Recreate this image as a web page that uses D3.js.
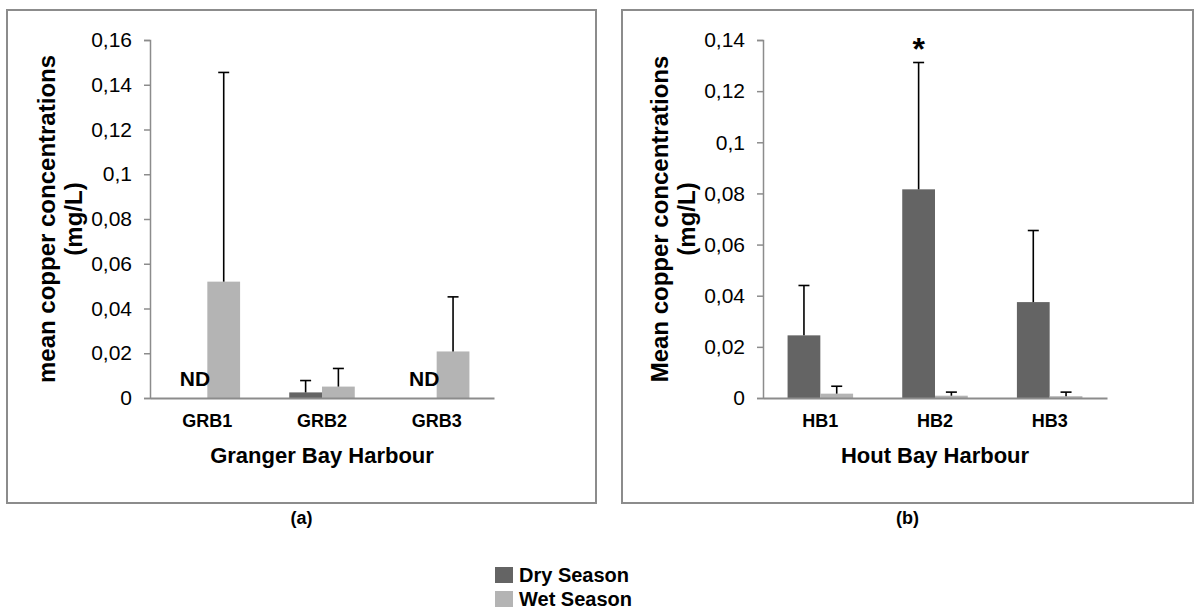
<!DOCTYPE html>
<html>
<head>
<meta charset="utf-8">
<script src="https://cdn.jsdelivr.net/npm/d3@7"></script>
<style>
  html, body { margin: 0; padding: 0; background: #fff; }
  svg { display: block; font-family: Arial, "Liberation Sans", sans-serif; }
</style>
</head>
<body>
<svg id="chart" width="1201" height="610"></svg>
<script>
// Copper concentrations (mg/L) per sampling site, dry vs wet season.
// null = not detected (ND).
const series = ["Dry Season", "Wet Season"];
const seriesColors = ["#646464", "#b4b4b4"];

// (a) Granger Bay Harbour
const grbSites = ["GRB1", "GRB2", "GRB3"];
const grbDry = [null, 0.0025, null];
const grbDryErr = [null, 0.0053, null];
const grbWet = [0.052, 0.0051, 0.0208];
const grbWetErr = [0.0935, 0.0081, 0.0244];
const grbTickValues = [0, 0.02, 0.04, 0.06, 0.08, 0.1, 0.12, 0.14, 0.16];
const grbTickLabels = ["0", "0,02", "0,04", "0,06", "0,08", "0,1", "0,12", "0,14", "0,16"];

// (b) Hout Bay Harbour
const hbSites = ["HB1", "HB2", "HB3"];
const hbDry = [0.0245, 0.0816, 0.0375];
const hbDryErr = [0.0195, 0.0496, 0.028];
const hbWet = [0.0017, 0.0009, 0.0007];
const hbWetErr = [0.0029, 0.0014, 0.0016];
const hbTickValues = [0, 0.02, 0.04, 0.06, 0.08, 0.1, 0.12, 0.14];
const hbTickLabels = ["0", "0,02", "0,04", "0,06", "0,08", "0,1", "0,12", "0,14"];
const hbSignificant = ["HB2"]; // marked with *

const svg = d3.select("#chart");

function drawPanel(opt) {
  const g = svg.append("g");

  // frame
  g.append("rect")
    .attr("x", opt.box[0]).attr("y", opt.box[1])
    .attr("width", opt.box[2]).attr("height", opt.box[3])
    .attr("fill", "none").attr("stroke", "#8c8c8c").attr("stroke-width", 2);

  const x0 = d3.scaleBand().domain(opt.sites).range([opt.left, opt.right]).padding(0);
  const x1 = d3.scaleBand().domain(series).range([0, x0.bandwidth()])
    .paddingInner(0).paddingOuter(0.75);
  const y = d3.scaleLinear().domain([0, opt.yMax]).range([opt.bottom, opt.top]);

  const rows = opt.sites.map((s, i) => ({
    site: s,
    vals: [
      { key: series[0], v: opt.dry[i], e: opt.dryErr[i], c: seriesColors[0] },
      { key: series[1], v: opt.wet[i], e: opt.wetErr[i], c: seriesColors[1] }
    ]
  }));

  // bars
  const grp = g.selectAll(".site").data(rows).join("g")
    .attr("transform", d => `translate(${x0(d.site)},0)`);
  grp.selectAll("rect").data(d => d.vals.filter(v => v.v !== null)).join("rect")
    .attr("x", d => x1(d.key))
    .attr("width", x1.bandwidth())
    .attr("y", d => y(d.v))
    .attr("height", d => y(0) - y(d.v))
    .attr("fill", d => d.c);

  // upper error bars
  const eb = grp.selectAll(".err").data(d => d.vals.filter(v => v.v !== null)).join("g")
    .attr("class", "err");
  eb.append("line")
    .attr("x1", d => x1(d.key) + x1.bandwidth() / 2)
    .attr("x2", d => x1(d.key) + x1.bandwidth() / 2)
    .attr("y1", d => y(d.v)).attr("y2", d => y(d.v + d.e))
    .attr("stroke", "#000").attr("stroke-width", 1.6);
  eb.append("line")
    .attr("x1", d => x1(d.key) + x1.bandwidth() / 2 - 5.5)
    .attr("x2", d => x1(d.key) + x1.bandwidth() / 2 + 5.5)
    .attr("y1", d => y(d.v + d.e)).attr("y2", d => y(d.v + d.e))
    .attr("stroke", "#000").attr("stroke-width", 1.6);

  // ND labels for non-detected values
  grp.selectAll(".nd").data(d => d.vals.filter(v => v.v === null)).join("text")
    .attr("class", "nd")
    .attr("x", d => x1(d.key) + x1.bandwidth() / 2 + 4)
    .attr("y", y(0) - 12)
    .attr("text-anchor", "middle")
    .attr("font-weight", "bold").attr("font-size", 21)
    .text("ND");

  // significance markers
  grp.filter(d => (opt.sig || []).includes(d.site))
    .append("text")
    .attr("x", d => x1(series[0]) + x1.bandwidth() / 2)
    .attr("y", d => y(d.vals[0].v + d.vals[0].e) - 3)
    .attr("text-anchor", "middle")
    .attr("font-weight", "bold").attr("font-size", 32)
    .text("*");

  // y axis
  const yAxis = d3.axisLeft(y)
    .tickValues(opt.tickValues)
    .tickFormat((d, i) => opt.tickLabels[i])
    .tickSize(6).tickPadding(12);
  const ya = g.append("g").attr("transform", `translate(${opt.left},0)`).call(yAxis);
  ya.select(".domain").attr("stroke", "#8c8c8c").attr("stroke-width", 1.5);
  ya.selectAll(".tick line").attr("stroke", "#8c8c8c").attr("stroke-width", 1.5);
  ya.selectAll(".tick text").attr("font-size", 21).attr("fill", "#000")
    .attr("font-family", "Arial, 'Liberation Sans', sans-serif");

  // x axis
  const xAxis = d3.axisBottom(x0).tickSize(0).tickPadding(16);
  const xa = g.append("g").attr("transform", `translate(0,${opt.bottom})`).call(xAxis);
  xa.select(".domain").attr("stroke", "#8c8c8c").attr("stroke-width", 2);
  xa.selectAll(".tick text").attr("font-size", 18).attr("font-weight", "bold").attr("fill", "#000")
    .attr("font-family", "Arial, 'Liberation Sans', sans-serif");

  // axis titles
  g.append("text")
    .attr("x", (opt.left + opt.right) / 2).attr("y", opt.bottom + 65)
    .attr("text-anchor", "middle").attr("font-weight", "bold").attr("font-size", 22)
    .text(opt.xTitle);

  const yt = g.append("text")
    .attr("transform", `translate(${opt.left - 95},${(opt.top + opt.bottom) / 2}) rotate(-90)`)
    .attr("text-anchor", "middle").attr("font-weight", "bold").attr("font-size", 24);
  yt.append("tspan").attr("x", 0).attr("dy", 0).text(opt.yTitle[0]);
  yt.append("tspan").attr("x", 0).attr("dy", 27).text(opt.yTitle[1]);

  // panel caption
  svg.append("text")
    .attr("x", opt.box[0] + opt.box[2] / 2).attr("y", 524)
    .attr("text-anchor", "middle").attr("font-weight", "bold").attr("font-size", 18)
    .text(opt.caption);
}

drawPanel({
  box: [7, 10, 589, 493],
  left: 150, right: 494, top: 40, bottom: 398, yMax: 0.16,
  sites: grbSites, dry: grbDry, dryErr: grbDryErr, wet: grbWet, wetErr: grbWetErr,
  tickValues: grbTickValues, tickLabels: grbTickLabels,
  xTitle: "Granger Bay Harbour",
  yTitle: ["mean copper concentrations", "(mg/L)"],
  caption: "(a)"
});

drawPanel({
  box: [622, 10, 571, 493],
  left: 763, right: 1107, top: 40, bottom: 398, yMax: 0.14,
  sites: hbSites, dry: hbDry, dryErr: hbDryErr, wet: hbWet, wetErr: hbWetErr,
  tickValues: hbTickValues, tickLabels: hbTickLabels, sig: hbSignificant,
  xTitle: "Hout Bay Harbour",
  yTitle: ["Mean copper concentrations", "(mg/L)"],
  caption: "(b)"
});

// legend
const legend = svg.append("g").attr("transform", "translate(495,567)");
const li = legend.selectAll("g").data(series).join("g")
  .attr("transform", (d, i) => `translate(0,${i * 24})`);
li.append("rect").attr("width", 18).attr("height", 16)
  .attr("fill", (d, i) => seriesColors[i]);
li.append("text").attr("x", 24).attr("y", 15)
  .attr("font-weight", "bold").attr("font-size", 20)
  .text(d => d);
</script>
</body>
</html>
